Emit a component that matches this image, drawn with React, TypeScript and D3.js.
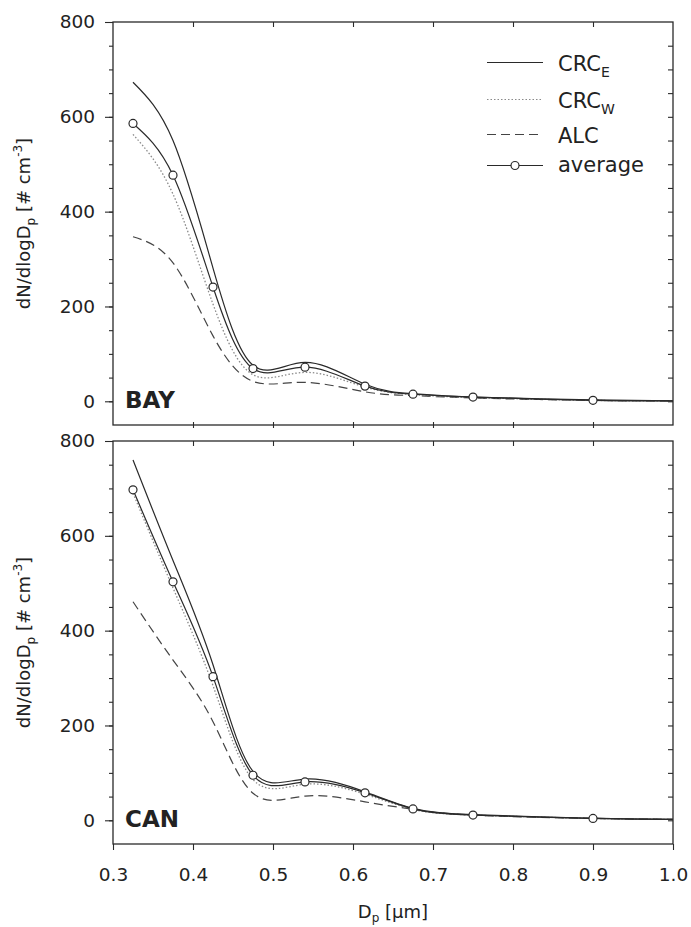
import React, { useRef, useEffect } from "react";
import * as d3 from "d3";

// particle diameter (µm) of the stages, last point is the right edge of the plot
const sizes = [0.325, 0.375, 0.425, 0.475, 0.54, 0.615, 0.675, 0.75, 0.9, 1.0];

// BAY panel
const bayCrcE = [673, 550, 281, 76, 82, 36, 16, 9, 3, 1];
const bayCrcW = [563, 437, 205, 56, 61, 30, 14, 8, 2, 1];
const bayAlc = [347, 292, 138, 42, 40, 20, 12, 7, 2, 1];
const bayAvg = [586, 477, 241, 69, 72, 32, 15, 9, 2, 1];

// CAN panel
const canCrcE = [760, 548, 328, 103, 87, 60, 25, 12, 4, 2];
const canCrcW = [690, 490, 284, 86, 76, 55, 23, 11, 4, 2];
const canAlc = [461, 338, 208, 57, 51, 39, 23, 11, 4, 2];
const canAvg = [697, 503, 303, 95, 81, 58, 24, 11, 4, 2];

const xTicks = [0.3, 0.4, 0.5, 0.6, 0.7, 0.8, 0.9, 1.0];
const yMajor = [0, 200, 400, 600, 800];
const yMinor = d3.range(-50, 801, 50);

const FONT = "DejaVu Sans";
const INK = "#2a2a2a";

const App = () => {
  const svgRef = useRef(null);
  const width = 691;
  const height = 927;

  useEffect(() => {
    const svg = d3.select(svgRef.current);
    svg.selectAll("*").remove();

    const left = 113;
    const right = 673;
    const x = d3.scaleLinear().domain([0.3, 1.0]).range([left, right]);

    const line = d3
      .line()
      .x(d => x(d[0]))
      .y(d => d[1])
      .curve(d3.curveNatural);

    const styleAxis = (g, showText) => {
      g.select(".domain").remove();
      g.selectAll("line").attr("stroke", INK).attr("stroke-width", 1.1);
      g.attr("font-family", FONT).attr("font-size", 18.5);
      g.selectAll("text").attr("fill", "#222");
      if (!showText) g.selectAll("text").remove();
    };

    const drawPanel = (top, bottom, crcE, crcW, alc, avg, label, isBottom) => {
      const y = d3.scaleLinear().domain([-50, 800]).range([bottom, top]);
      const g = svg.append("g");

      // left axis: outward major + minor ticks
      g.append("g")
        .attr("transform", `translate(${left},0)`)
        .call(d3.axisLeft(y).tickValues(yMinor.filter(v => v > -50 && v < 800)).tickSize(4).tickFormat(""))
        .call(s => styleAxis(s, false));
      g.append("g")
        .attr("transform", `translate(${left},0)`)
        .call(d3.axisLeft(y).tickValues(yMajor).tickSize(8).tickPadding(10).tickFormat(d3.format("d")))
        .call(s => styleAxis(s, true));

      // right axis: inward ticks
      g.append("g")
        .attr("transform", `translate(${right},0)`)
        .call(d3.axisLeft(y).tickValues(yMinor.filter(v => v > -50 && v < 800)).tickSize(5).tickFormat(""))
        .call(s => styleAxis(s, false));

      // top: inward ticks
      g.append("g")
        .attr("transform", `translate(0,${top})`)
        .call(d3.axisBottom(x).tickValues(xTicks.slice(1, -1)).tickSize(5).tickFormat(""))
        .call(s => styleAxis(s, false));

      if (isBottom) {
        g.append("g")
          .attr("transform", `translate(0,${bottom})`)
          .call(d3.axisBottom(x).tickValues(xTicks).tickSize(6).tickPadding(18).tickFormat(d3.format(".1f")))
          .call(s => styleAxis(s, true));
      } else {
        g.append("g")
          .attr("transform", `translate(0,${bottom})`)
          .call(d3.axisBottom(x).tickValues(xTicks.slice(1, -1)).tickSize(3).tickFormat(""))
          .call(s => styleAxis(s, false));
        g.append("g")
          .attr("transform", `translate(0,${bottom})`)
          .call(d3.axisTop(x).tickValues(xTicks.slice(1, -1)).tickSize(3).tickFormat(""))
          .call(s => styleAxis(s, false));
      }

      // frame
      g.append("rect")
        .attr("x", left)
        .attr("y", top)
        .attr("width", right - left)
        .attr("height", bottom - top)
        .attr("fill", "none")
        .attr("stroke", INK)
        .attr("stroke-width", 1.3);

      const pts = vals => vals.map((v, i) => [sizes[i], y(v)]);

      g.append("path")
        .attr("d", line(pts(alc)))
        .attr("fill", "none")
        .attr("stroke", "#444")
        .attr("stroke-width", 1.2)
        .attr("stroke-dasharray", "9,5");
      g.append("path")
        .attr("d", line(pts(crcW)))
        .attr("fill", "none")
        .attr("stroke", "#8a8a8a")
        .attr("stroke-width", 1.3)
        .attr("stroke-dasharray", "1.5,2");
      g.append("path")
        .attr("d", line(pts(crcE)))
        .attr("fill", "none")
        .attr("stroke", INK)
        .attr("stroke-width", 1.2);
      g.append("path")
        .attr("d", line(pts(avg)))
        .attr("fill", "none")
        .attr("stroke", INK)
        .attr("stroke-width", 1.2);

      g.selectAll("circle.avg")
        .data(avg.slice(0, sizes.length - 1))
        .enter()
        .append("circle")
        .attr("class", "avg")
        .attr("cx", (d, i) => x(sizes[i]))
        .attr("cy", d => y(d))
        .attr("r", 4)
        .attr("fill", "white")
        .attr("stroke", INK)
        .attr("stroke-width", 1.2);

      // panel label
      g.append("text")
        .attr("x", 125)
        .attr("y", y(0) + (isBottom ? 6.5 : 7))
        .attr("font-family", FONT)
        .attr("font-weight", "bold")
        .attr("font-size", 23)
        .attr("fill", "#222")
        .text(label);

      // y axis title
      const yt = g.append("text")
        .attr("transform", `translate(30,${(top + bottom) / 2}) rotate(-90)`)
        .attr("text-anchor", "middle")
        .attr("font-family", FONT)
        .attr("font-size", 18)
        .attr("fill", "#222");
      yt.append("tspan").text("dN/dlogD");
      yt.append("tspan").attr("font-size", 12).attr("dy", 5).text("p");
      yt.append("tspan").attr("dy", -5).text(" [# cm");
      yt.append("tspan").attr("font-size", 12).attr("dy", -8).text("-3");
      yt.append("tspan").attr("dy", 8).text("]");
    };

    drawPanel(22, 425, bayCrcE, bayCrcW, bayAlc, bayAvg, "BAY", false);
    drawPanel(441, 844, canCrcE, canCrcW, canAlc, canAvg, "CAN", true);

    // legend
    const legendItems = [
      { name: "CRC", sub: "E", dash: null, color: INK, cy: 62.5, marker: false },
      { name: "CRC", sub: "W", dash: "1.5,2", color: "#8a8a8a", cy: 99.5, marker: false },
      { name: "ALC", sub: "", dash: "9,5", color: "#444", cy: 134.5, marker: false },
      { name: "average", sub: "", dash: null, color: INK, cy: 165.5, marker: true },
    ];
    const legend = svg.append("g");
    legendItems.forEach(it => {
      legend.append("line")
        .attr("x1", 487)
        .attr("x2", 543)
        .attr("y1", it.cy)
        .attr("y2", it.cy)
        .attr("stroke", it.color)
        .attr("stroke-width", 1.2)
        .attr("stroke-dasharray", it.dash);
      if (it.marker) {
        legend.append("circle")
          .attr("cx", 515)
          .attr("cy", it.cy)
          .attr("r", 4)
          .attr("fill", "white")
          .attr("stroke", INK)
          .attr("stroke-width", 1.2);
      }
      const t = legend.append("text")
        .attr("x", 558)
        .attr("y", it.cy + (it.marker ? 6 : 8))
        .attr("font-family", FONT)
        .attr("font-size", 21)
        .attr("fill", "#222")
        .text(it.name);
      if (it.sub) {
        t.append("tspan").attr("font-size", 14).attr("dy", 6).text(it.sub);
      }
    });

    // x axis title
    const xt = svg.append("text")
      .attr("x", 393)
      .attr("y", 918)
      .attr("text-anchor", "middle")
      .attr("font-family", FONT)
      .attr("font-size", 18)
      .attr("fill", "#222");
    xt.append("tspan").text("D");
    xt.append("tspan").attr("font-size", 12).attr("dy", 4).text("p");
    xt.append("tspan").attr("dy", -4).text(" [µm]");
  }, []);

  return (
    <svg
      ref={svgRef}
      width={width}
      height={height}
      style={{ position: "absolute", left: 0, top: 0, background: "white" }}
    ></svg>
  );
};

export default App;
